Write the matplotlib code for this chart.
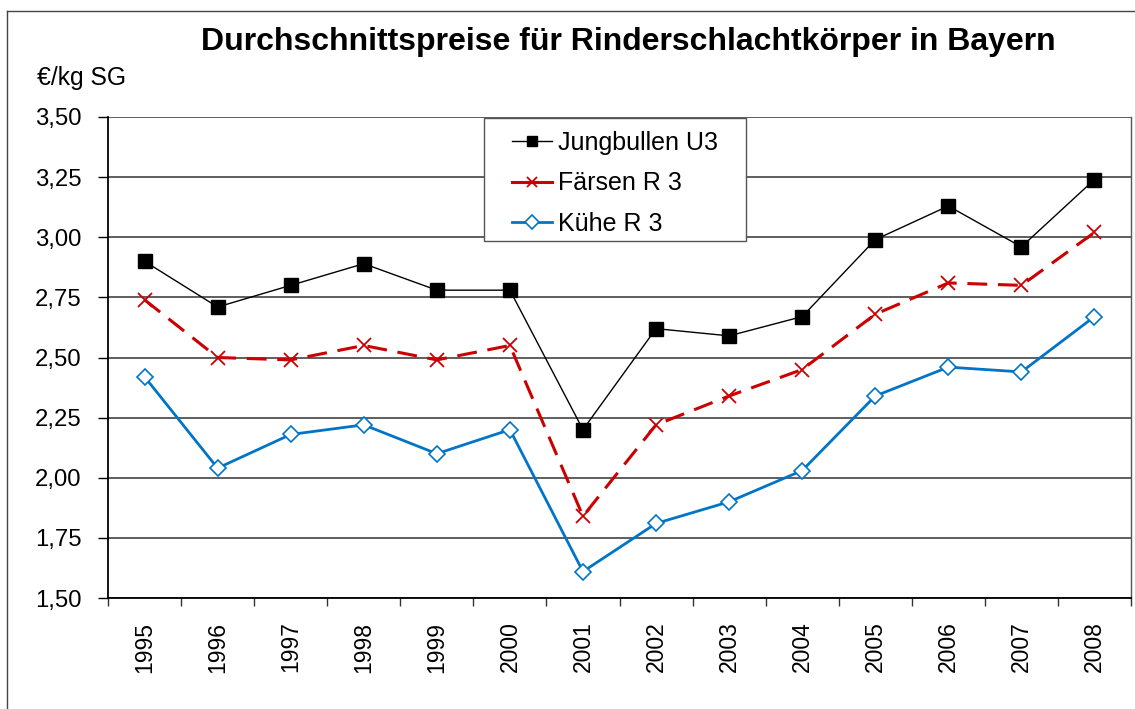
import matplotlib
matplotlib.use("Agg")
import matplotlib.pyplot as plt
from matplotlib.lines import Line2D
from matplotlib.patches import Rectangle

plt.rcParams['font.family'] = ['Liberation Sans', 'DejaVu Sans']

years = ["1995", "1996", "1997", "1998", "1999", "2000", "2001",
         "2002", "2003", "2004", "2005", "2006", "2007", "2008"]
jungbullen = [2.90, 2.71, 2.80, 2.89, 2.78, 2.78, 2.20, 2.62, 2.59, 2.67, 2.99, 3.13, 2.96, 3.24]
faersen = [2.74, 2.50, 2.49, 2.55, 2.49, 2.55, 1.84, 2.22, 2.34, 2.45, 2.68, 2.81, 2.80, 3.02]
kuehe = [2.42, 2.04, 2.18, 2.22, 2.10, 2.20, 1.61, 1.81, 1.90, 2.03, 2.34, 2.46, 2.44, 2.67]
yticks = [1.50, 1.75, 2.00, 2.25, 2.50, 2.75, 3.00, 3.25, 3.50]
ytick_labels = ["1,50", "1,75", "2,00", "2,25", "2,50", "2,75", "3,00", "3,25", "3,50"]

W, H = 1135, 709
L, R, T, B = 108, 1131, 117, 598
fig = plt.figure(figsize=(W / 100, H / 100), dpi=100)
ax = fig.add_axes([L / W, 1 - B / H, (R - L) / W, (B - T) / H])


def ax_frac(px, py):
    return (px - L) / (R - L), (B - py) / (B - T)


x = list(range(len(years)))
red = "#CC0000"
blue = "#0075C8"

ax.plot(x, jungbullen, color="black", lw=1.0, marker="s", markersize=9.5,
        markerfacecolor="black", markeredgecolor="black", label="Jungbullen U3", zorder=5)
ax.plot(x, faersen, color=red, lw=2.2, dashes=(6.5, 3.5), marker="x", markersize=9.5,
        markeredgewidth=1.3, label="Färsen R 3", zorder=4)
ax.plot(x, kuehe, color=blue, lw=2.0, marker="D", markersize=8.5,
        markerfacecolor="white", markeredgecolor=blue, markeredgewidth=1.2,
        label="Kühe R 3", zorder=3)

ax.set_xlim(-0.5, len(years) - 0.5)
ax.set_ylim(1.50, 3.50)

ax.set_yticks(yticks)
ax.set_yticklabels(ytick_labels, fontsize=17.2)
ax.tick_params(axis="y", direction="out", length=7, width=1, color="black", pad=12)

ax.set_xticks(x)
ax.set_xticklabels(years, rotation=90, fontsize=16.5)
ax.set_xticks([i - 0.5 for i in range(len(years) + 1)], minor=True)
ax.tick_params(axis="x", which="major", length=0, pad=17)
ax.tick_params(axis="x", which="minor", direction="out", length=6, width=1, color="#333333")

ax.grid(axis="y", color="#333333", lw=1.1)
ax.set_axisbelow(True)
for side in ["left", "bottom"]:
    ax.spines[side].set_color("black")
    ax.spines[side].set_linewidth(1.3)
ax.spines["top"].set_visible(False)
ax.spines["right"].set_color("#555555")
ax.spines["right"].set_linewidth(1.0)

# legend box
bx0, by0 = ax_frac(484, 241)
bx1, by1 = ax_frac(746, 118)
ax.add_patch(Rectangle((bx0, by0), bx1 - bx0, by1 - by0, transform=ax.transAxes,
                       facecolor="white", edgecolor="#555555", lw=1.0, zorder=6))

leg = ax.legend(loc="upper left", bbox_to_anchor=ax_frac(512, 131),
                fontsize=18, frameon=False,
                handlelength=1.6, handletextpad=0.25, borderpad=0.0, labelspacing=0.66,
                borderaxespad=0.0)
leg.set_zorder(7)
for h in leg.legend_handles:
    h.set_markersize(7.5)
    h.set_linestyle("-")

fig.text(628 / W, 1 - 42 / H, "Durchschnittspreise für Rinderschlachtkörper in Bayern",
         fontsize=23, fontweight="bold", ha="center", va="center")
fig.text(37 / W, 1 - 78 / H, "€/kg SG", fontsize=17.8, ha="left", va="center")

# outer chart border (top and left visible)
fig.add_artist(Line2D([7 / W, 1.0], [1 - 11 / H, 1 - 11 / H], transform=fig.transFigure,
                      color="#444444", lw=1.0))
fig.add_artist(Line2D([7 / W, 7 / W], [1 - 11 / H, 0.0], transform=fig.transFigure,
                      color="#444444", lw=1.0))

fig.savefig("out.png", dpi=100)
